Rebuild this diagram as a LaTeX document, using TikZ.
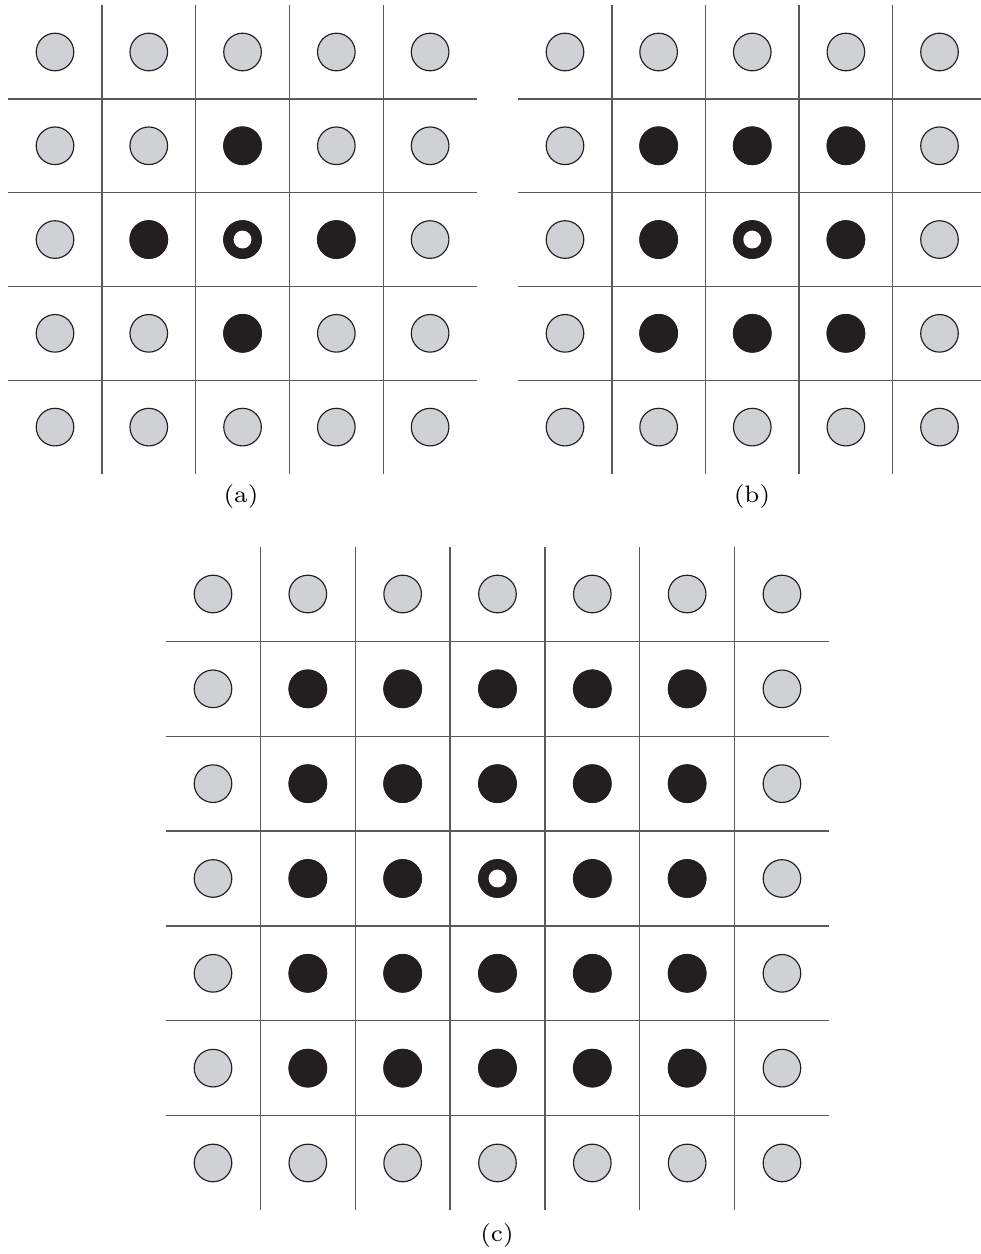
\documentclass[tikz,border=0pt]{standalone}
\usetikzlibrary{positioning}

\definecolor{discgray}{RGB}{208,209,212}
\definecolor{discdark}{RGB}{35,31,32}
\definecolor{gridline}{RGB}{90,90,90}

\begin{document}
\begin{tikzpicture}[
		x=0.010638cm, y=-0.010638cm,
		% Styles
		gridrule/.style={draw=gridline, line width=0.42pt},
		emptydisc/.style={circle, draw=discdark, line width=0.35pt, fill=discgray, inner sep=0pt, minimum size=0.400cm},
		fulldisc/.style={circle, fill=discdark, inner sep=0pt, minimum size=0.410cm},
		holedisc/.style={circle, fill=white, inner sep=0pt, minimum size=0.190cm},
		caption/.style={font=\fontsize{7.2}{8}\selectfont, inner sep=0pt}
		]
		
		\useasboundingbox (0,0) rectangle (980,1254);
		
		% =========================================================
		% 1. GRID (a): 5 x 5, cross neighbourhood
		% =========================================================
		\begin{scope}[shift={(55,52)}, x=0.99731cm, y=-0.99731cm]
			\foreach \k in {1,...,4} {
				\draw[gridrule] (\k-0.5,-0.5) -- (\k-0.5,4.5);
				\draw[gridrule] (-0.5,\k-0.5) -- (4.5,\k-0.5);
			}
			\foreach \i in {0,...,4} {
				\foreach \j in {0,...,4} {
					\node[emptydisc] (a-\i-\j) at (\i,\j) {};
				}
			}
			\foreach \i/\j in {2/1, 1/2, 3/2, 2/3} {
				\node[fulldisc] (a-\i-\j) at (\i,\j) {};
			}
			\node[fulldisc] (a-c) at (2,2) {};
			\node[holedisc] (a-h) at (a-c) {};
		\end{scope}
		\node[caption] (lab-a) at (241,497) {(a)};
		
		% =========================================================
		% 2. GRID (b): 5 x 5, square neighbourhood
		% =========================================================
		\begin{scope}[shift={(565,52)}, x=0.99572cm, y=-0.99731cm]
			\foreach \k in {1,...,4} {
				\draw[gridrule] (\k-0.5,-0.5) -- (\k-0.5,4.5);
				\draw[gridrule] (-0.5,\k-0.5) -- (4.5,\k-0.5);
			}
			\foreach \i in {0,...,4} {
				\foreach \j in {0,...,4} {
					\node[emptydisc] (b-\i-\j) at (\i,\j) {};
				}
			}
			\foreach \i in {1,...,3} {
				\foreach \j in {1,...,3} {
					\node[fulldisc] (b-\i-\j) at (\i,\j) {};
				}
			}
			\node[holedisc] (b-h) at (b-2-2) {};
		\end{scope}
		\node[caption] (lab-b) at (752,497) {(b)};
		
		% =========================================================
		% 3. GRID (c): 7 x 7, large square neighbourhood
		% =========================================================
		\begin{scope}[shift={(213,594)}, x=1.00848cm, y=-1.00848cm]
			\foreach \k in {1,...,6} {
				\draw[gridrule] (\k-0.5,-0.5) -- (\k-0.5,6.5);
				\draw[gridrule] (-0.5,\k-0.5) -- (6.5,\k-0.5);
			}
			\foreach \i in {0,...,6} {
				\foreach \j in {0,...,6} {
					\node[emptydisc] (c-\i-\j) at (\i,\j) {};
				}
			}
			\foreach \i in {1,...,5} {
				\foreach \j in {1,...,5} {
					\node[fulldisc] (c-\i-\j) at (\i,\j) {};
				}
			}
			\node[holedisc] (c-h) at (c-3-3) {};
		\end{scope}
		\node[caption] (lab-c) at (497,1236) {(c)};
		
	\end{tikzpicture}
\end{document}
